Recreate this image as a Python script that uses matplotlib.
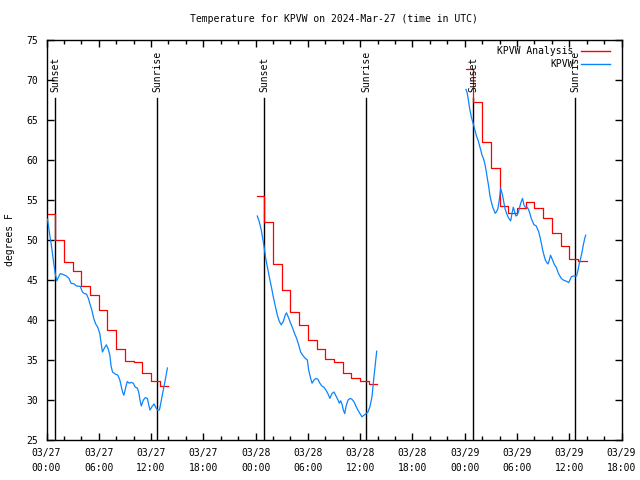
import matplotlib
matplotlib.use("Agg")
import matplotlib.pyplot as plt
from matplotlib.ticker import MultipleLocator, FixedLocator
from matplotlib.lines import Line2D
import numpy as np

# ---------------- data ----------------
title = "Temperature for KPVW on 2024-Mar-27 (time in UTC)"
ylabel = "degrees F"
series_names = ["KPVW Analysis", "KPVW"]

# hours since 2024-03-27 00:00 UTC
xtick_hours = [0, 6, 12, 18, 24, 30, 36, 42, 48, 54, 60, 66]
xtick_labels = ["03/27\n00:00", "03/27\n06:00", "03/27\n12:00", "03/27\n18:00",
                "03/28\n00:00", "03/28\n06:00", "03/28\n12:00", "03/28\n18:00",
                "03/29\n00:00", "03/29\n06:00", "03/29\n12:00", "03/29\n18:00"]
yticks = [25, 30, 35, 40, 45, 50, 55, 60, 65, 70, 75]

sunset_hours = [1.0, 25.0, 49.0]
sunrise_hours = [12.72, 36.71, 60.70]

# Analysis (hourly, step) : start times, values, end time
an1_t = [0.12, 1, 2, 3, 4, 5, 6, 7, 8, 9, 10, 11, 12, 13]
an1_v = [53.2, 50.0, 47.3, 46.1, 44.2, 43.1, 41.25, 38.7, 36.4, 34.9, 34.8, 33.4, 32.4, 31.7]
an1_end = 13.9
an2_t = [24.2, 25, 26, 27, 28, 29, 30, 31, 32, 33, 34, 35, 36, 37]
an2_v = [55.5, 52.3, 47.0, 43.75, 40.96, 39.33, 37.46, 36.33, 35.08, 34.75, 33.38, 32.75, 32.38, 32.0]
an2_end = 37.9
an3_t = [48.15, 49, 50, 51, 52, 53, 54, 55, 56, 57, 58, 59, 60, 61]
an3_v = [71.33, 67.25, 62.3, 58.96, 54.25, 53.4, 53.96, 54.7, 53.96, 52.7, 50.9, 49.25, 47.6, 47.4]
an3_end = 62.0

# Observations
ob1_t = [0.12, 0.35, 0.58, 0.73, 0.88, 1.0, 1.19, 1.35, 1.58, 1.88, 2.27, 2.58, 2.81, 3.19, 3.42,
         3.88, 4.12, 4.35, 4.58, 4.81, 4.96, 5.19, 5.42, 5.65, 5.88, 6.12, 6.27, 6.42, 6.65, 6.88,
         7.12, 7.27, 7.42, 7.58, 7.88, 8.19, 8.42, 8.58, 8.73, 8.88, 9.12, 9.27, 9.5, 9.73, 9.96,
         10.19, 10.42, 10.58, 10.73, 10.88, 11.12, 11.35, 11.58, 11.73, 11.88, 12.12, 12.35, 12.58,
         12.73, 12.96, 13.12, 13.27, 13.5, 13.73, 13.88]
ob1_v = [52.6, 50.8, 49.2, 47.9, 46.7, 45.8, 44.9, 45.3, 45.8, 45.7, 45.5, 45.2, 44.6, 44.5, 44.25,
         44.2, 43.5, 43.3, 43.25, 42.7, 42.1, 41.3, 40.2, 39.5, 39.1, 38.3, 37.1, 36.0, 36.5, 36.9,
         36.25, 35.6, 34.2, 33.5, 33.25, 33.1, 32.5, 31.7, 31.0, 30.6, 31.7, 32.3, 32.1, 32.2, 32.1,
         31.6, 31.5, 31.0, 30.0, 29.25, 30.0, 30.3, 30.2, 29.4, 28.75, 29.2, 29.5, 29.0,
         28.75, 28.75, 29.6, 30.5, 31.75, 33.1, 34.0]
ob2_t = [24.19, 24.42, 24.65, 24.88, 25.03, 25.19, 25.34, 25.57, 25.8, 26.03, 26.27, 26.5, 26.73,
         26.94, 27.17, 27.4, 27.55, 27.78, 28.02, 28.25, 28.48, 28.71, 28.94, 29.17, 29.4, 29.71,
         29.94, 30.09, 30.32, 30.48, 30.71,
         30.92, 31.15, 31.38, 31.61, 31.84, 32.07, 32.3, 32.53, 32.76, 33.0, 33.23, 33.46, 33.61,
         33.76, 33.92, 34.07, 34.23, 34.38, 34.61, 34.84,
         35.05, 35.28, 35.51, 35.74, 35.98, 36.21, 36.44, 36.67, 36.9, 37.13, 37.36, 37.51, 37.67, 37.9]
ob2_v = [53.0, 52.3, 51.25, 49.8, 48.75, 47.5, 46.7, 45.4, 44.2, 42.9, 41.7, 40.6, 39.8,
         39.4, 39.8, 40.6, 40.9, 40.3, 39.6, 39.0, 38.3, 37.7, 36.9, 36.0, 35.6, 35.2,
         35.0, 33.75, 32.7, 32.1, 32.5,
         32.7, 32.6, 32.1, 31.75, 31.6, 31.25, 30.8, 30.2, 30.8, 31.0, 30.5, 30.0, 29.6,
         29.9, 29.5, 28.75, 28.3, 29.2, 30.0, 30.2,
         30.1, 29.8, 29.25, 28.75, 28.3, 27.9, 28.1, 28.3, 28.5, 29.2, 30.4, 32.1, 33.75, 36.1]
ob3_t = [48.15, 48.3, 48.45, 48.6, 48.76, 48.91, 49.07, 49.22, 49.38, 49.53, 49.68, 49.84, 49.99,
         50.15, 50.3, 50.45, 50.6, 50.76, 50.89, 51.05, 51.2, 51.35, 51.51, 51.66, 51.82, 51.97,
         52.13, 52.35, 52.51, 52.66, 52.82, 52.97, 53.13, 53.28, 53.43, 53.58, 53.74, 53.87, 54.03,
         54.18, 54.33, 54.49, 54.64, 54.8, 54.95, 55.18, 55.33, 55.49, 55.64, 55.8, 55.95, 56.18,
         56.33, 56.49, 56.64, 56.8, 56.95, 57.1, 57.26, 57.41, 57.56, 57.72, 57.85, 58.01, 58.16,
         58.31, 58.47, 58.62, 58.77, 58.93, 59.08, 59.31, 59.54, 59.77, 59.93, 60.08, 60.24, 60.47,
         60.7, 60.85, 61.01, 61.16, 61.31, 61.47, 61.62, 61.78, 61.89]
ob3_v = [68.83, 68.33, 67.3, 66.25, 65.4, 64.8, 64.2, 63.54, 62.9, 62.5, 61.9, 61.25, 60.6,
         60.2, 59.6, 58.75, 57.7, 56.67, 55.6, 54.8, 54.17, 53.75, 53.33, 53.54, 53.96, 55.0,
         56.46, 55.6, 54.6, 53.8, 53.3, 52.9, 52.6, 52.4, 53.3, 54.1, 53.5, 53.0, 53.1,
         53.54, 54.2, 54.8, 55.2, 54.4, 54.1, 54.1, 53.8, 53.3, 52.7, 52.3, 51.9, 51.8,
         51.46, 51.04, 50.4, 49.6, 48.75, 48.1, 47.5, 47.2, 47.0, 47.5, 48.1, 47.7, 47.3,
         46.9, 46.67, 46.25, 45.8, 45.5, 45.2, 45.0, 44.9, 44.8, 44.67, 45.0, 45.4, 45.5,
         45.5, 45.5, 46.25, 47.1, 47.7, 48.5, 49.4, 50.2, 50.6]

# ---------------- plot ----------------
FONT = "DejaVu Sans Mono"
FS = 7
plt.rcParams["font.family"] = FONT
plt.rcParams["font.size"] = FS

fig = plt.figure(figsize=(6.4, 4.8), dpi=100)
ax = fig.add_axes([46.5 / 640, 40 / 480, 575 / 640, 400 / 480])

red = "#ff0000"
blue = "#0a84ff"

for t, v, end in [(an1_t, an1_v, an1_end), (an2_t, an2_v, an2_end), (an3_t, an3_v, an3_end)]:
    ax.step(list(t) + [end], list(v) + [v[-1]], where="post", color=red, lw=0.9, zorder=3)

for t, v in [(ob1_t, ob1_v), (ob2_t, ob2_v), (ob3_t, ob3_v)]:
    ax.plot(t, v, color=blue, lw=0.9, zorder=4)

for h in sunset_hours:
    ax.plot([h, h], [0, 0.855], color="black", lw=1.0, transform=ax.get_xaxis_transform(), zorder=2)
    ax.text(h, 0.87, "Sunset", rotation=90, ha="center", va="bottom",
            transform=ax.get_xaxis_transform(), fontsize=FS)
for h in sunrise_hours:
    ax.plot([h, h], [0, 0.855], color="black", lw=1.0, transform=ax.get_xaxis_transform(), zorder=2)
    ax.text(h, 0.87, "Sunrise", rotation=90, ha="center", va="bottom",
            transform=ax.get_xaxis_transform(), fontsize=FS)

ax.set_xlim(0, 66)
ax.set_ylim(25, 75)
ax.xaxis.set_major_locator(FixedLocator(xtick_hours))
ax.set_xticklabels(xtick_labels, linespacing=1.6)
ax.xaxis.set_minor_locator(MultipleLocator(2))
ax.yaxis.set_major_locator(FixedLocator(yticks))
ax.set_yticklabels([str(y) for y in yticks])

ax.tick_params(which="both", direction="in", top=True, right=True, width=1, labelsize=FS)
ax.tick_params(which="major", length=5, pad=6)
ax.tick_params(which="minor", length=3)
for s in ax.spines.values():
    s.set_linewidth(1.0)

ax.set_ylabel(ylabel, fontsize=FS, labelpad=8)
fig.text(334 / 640, 1 - 19 / 480, title, ha="center", va="center", fontsize=FS)

handles = [Line2D([], [], color=red, lw=1.0), Line2D([], [], color=blue, lw=1.0)]
ax.legend(handles, series_names, loc="upper right", bbox_to_anchor=(0.98, 0.985),
          frameon=False, markerfirst=False, borderpad=0, borderaxespad=0,
          handlelength=3.0, handletextpad=0.75, labelspacing=0.3, fontsize=FS)

fig.savefig("out.png", dpi=100)
